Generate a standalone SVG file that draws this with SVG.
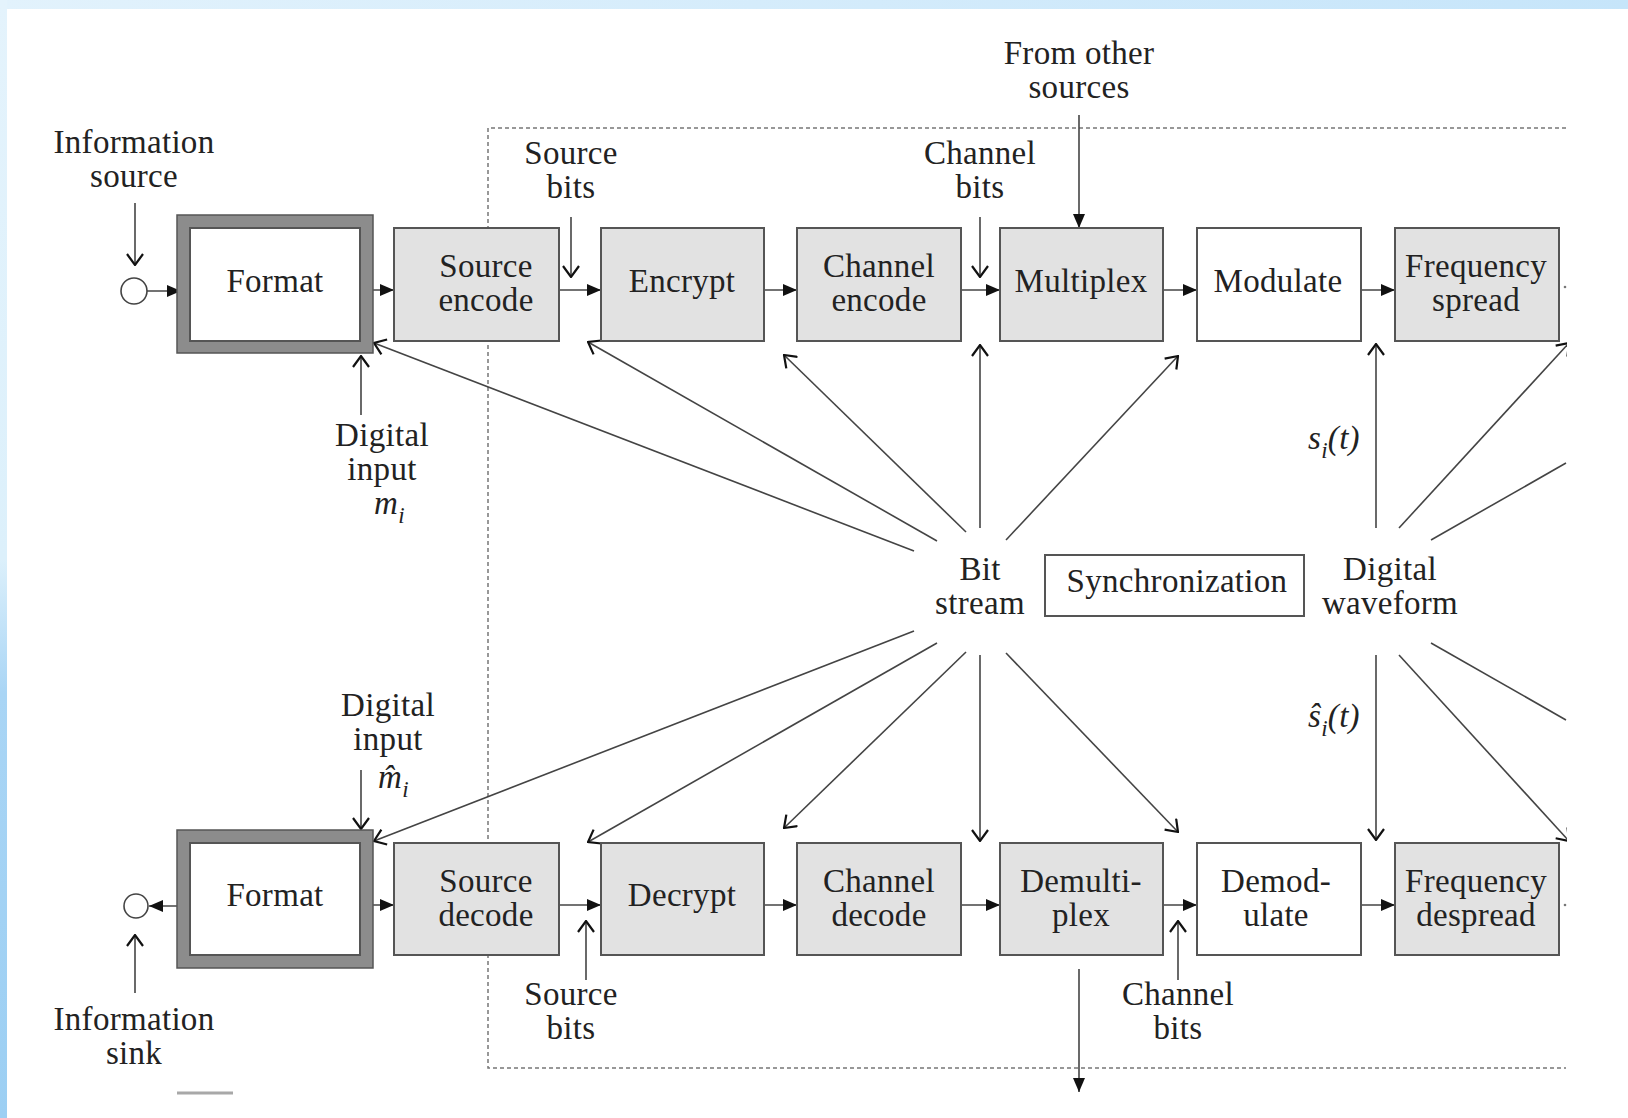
<svg xmlns="http://www.w3.org/2000/svg" width="1628" height="1118" viewBox="0 0 1628 1118">
<defs>
<linearGradient id="topband" x1="0" y1="0" x2="1" y2="0">
<stop offset="0" stop-color="#e2f2fc"/><stop offset="1" stop-color="#c6e5fa"/>
</linearGradient>
<linearGradient id="leftband" x1="0" y1="0" x2="0" y2="1">
<stop offset="0" stop-color="#e4f3fc"/><stop offset="0.5" stop-color="#dcf0fb"/><stop offset="0.62" stop-color="#a9d5f5"/><stop offset="1" stop-color="#9ccff3"/>
</linearGradient>
<marker id="fh" viewBox="0 0 14 12" refX="14" refY="6" markerWidth="14" markerHeight="12" markerUnits="userSpaceOnUse" orient="auto">
<path d="M0,0 L14,6 L0,12 z" fill="#111"/>
</marker>
<marker id="oh" viewBox="0 0 13 18" refX="12" refY="9" markerWidth="13" markerHeight="18" markerUnits="userSpaceOnUse" orient="auto">
<path d="M1,1 L12,9 L1,17" fill="none" stroke="#111" stroke-width="2.2"/>
</marker>
<clipPath id="clipR"><rect x="0" y="0" width="1567" height="1118"/></clipPath>
</defs>
<style>
text{font-family:"Liberation Serif","Times New Roman",serif;font-size:33px;fill:#222;text-anchor:middle;letter-spacing:0.3px}
.it{font-style:italic}
.sub{font-size:23px;font-style:italic}
.gbox{fill:#e2e2e2;stroke:#555;stroke-width:2}
.wbox{fill:#fff;stroke:#555;stroke-width:2}
.fmt{fill:#8c8c8c;stroke:#555;stroke-width:1.5}
.ln{fill:none;stroke:#444;stroke-width:1.6}
.f{marker-end:url(#fh)}
.o{marker-end:url(#oh)}
</style>
<rect x="0" y="0" width="1628" height="1118" fill="#ffffff"/>
<rect x="0" y="0" width="1628" height="9" fill="url(#topband)"/>
<rect x="0" y="0" width="7" height="1118" fill="url(#leftband)"/>

<g id="dashed-frame">
<path d="M1566,128 H488 V1068 H1566" fill="none" stroke="#777" stroke-width="1.5" stroke-dasharray="4 3"/>
</g>

<g id="connectors">
<path class="ln f" d="M147,291 H181"/>
<path class="ln f" d="M360,290 H394"/>
<path class="ln f" d="M559,290 H601"/>
<path class="ln f" d="M764,290 H797"/>
<path class="ln f" d="M961,290 H1000"/>
<path class="ln f" d="M1163,290 H1197"/>
<path class="ln f" d="M1361,290 H1395"/>
<path class="ln f" d="M190,906 H149"/>
<path class="ln f" d="M360,905 H394"/>
<path class="ln f" d="M559,905 H601"/>
<path class="ln f" d="M764,905 H797"/>
<path class="ln f" d="M961,905 H1000"/>
<path class="ln f" d="M1163,905 H1197"/>
<path class="ln f" d="M1361,905 H1395"/>
<path class="ln o" d="M135,203 V265"/>
<path class="ln o" d="M571,217 V277"/>
<path class="ln o" d="M980,217 V277"/>
<path class="ln f" d="M1079,115 V228"/>
<path class="ln o" d="M361,415 V356"/>
<path class="ln o" d="M361,770 V829"/>
<path class="ln o" d="M135,993 V935"/>
<path class="ln o" d="M586,980 V921"/>
<path class="ln o" d="M1178,980 V921"/>
<path class="ln f" d="M1079,969 V1092"/>
<path class="ln o" d="M914,551 L374,343"/>
<path class="ln o" d="M937,541 L588,342"/>
<path class="ln o" d="M966,532 L784,355"/>
<path class="ln o" d="M980,528 V345"/>
<path class="ln o" d="M1006,540 L1178,356"/>
<path class="ln o" d="M1376,528 V344"/>
<path class="ln o" d="M1399,528 L1569,343" clip-path="url(#clipR)"/>
<path class="ln" d="M1431,540 L1566,463"/>
<path class="ln o" d="M914,631 L374,841"/>
<path class="ln o" d="M937,643 L588,842"/>
<path class="ln o" d="M966,652 L784,828"/>
<path class="ln o" d="M980,655 V841"/>
<path class="ln o" d="M1006,653 L1178,832"/>
<path class="ln o" d="M1376,655 V840"/>
<path class="ln o" d="M1399,655 L1569,841" clip-path="url(#clipR)"/>
<path class="ln" d="M1431,643 L1566,720"/>
<circle cx="1565" cy="287" r="1.3" fill="#777"/>
<circle cx="1565" cy="905" r="1.3" fill="#777"/>
</g>

<g id="info-source">
<circle cx="134" cy="291" r="13" fill="#fff" stroke="#444" stroke-width="1.6"/>
<text x="134" y="153">Information</text>
<text x="134" y="187">source</text>
</g>
<g id="format-tx">
<rect class="fmt" x="177" y="215" width="196" height="138"/>
<rect class="wbox" x="190" y="228" width="170" height="113"/>
<text x="275" y="292">Format</text>
</g>
<g id="source-encode">
<rect class="gbox" x="394" y="228" width="165" height="113"/>
<text x="486" y="277">Source</text>
<text x="486" y="311">encode</text>
</g>
<g id="encrypt">
<rect class="gbox" x="601" y="228" width="163" height="113"/>
<text x="682" y="292">Encrypt</text>
</g>
<g id="channel-encode">
<rect class="gbox" x="797" y="228" width="164" height="113"/>
<text x="879" y="277">Channel</text>
<text x="879" y="311">encode</text>
</g>
<g id="multiplex">
<rect class="gbox" x="1000" y="228" width="163" height="113"/>
<text x="1081" y="292">Multiplex</text>
</g>
<g id="modulate">
<rect class="wbox" x="1197" y="228" width="164" height="113"/>
<text x="1278" y="292">Modulate</text>
</g>
<g id="frequency-spread">
<rect class="gbox" x="1395" y="228" width="164" height="113"/>
<text x="1476" y="277">Frequency</text>
<text x="1476" y="311">spread</text>
</g>

<g id="label-source-bits-top">
<text x="571" y="164">Source</text>
<text x="571" y="198">bits</text>
</g>
<g id="label-channel-bits-top">
<text x="980" y="164">Channel</text>
<text x="980" y="198">bits</text>
</g>
<g id="label-from-other">
<text x="1079" y="64">From other</text>
<text x="1079" y="98">sources</text>
</g>
<g id="label-digital-input-top">
<text x="382" y="446">Digital</text>
<text x="382" y="480">input</text>
<text x="374" y="514" style="text-anchor:start"><tspan class="it">m</tspan><tspan class="sub" dy="9">i</tspan></text>
</g>
<g id="label-si">
<text x="1308" y="449" style="text-anchor:start" class="it">s<tspan class="sub" dy="9">i</tspan><tspan dy="-9">(t)</tspan></text>
</g>

<g id="bit-stream">
<text x="980" y="580">Bit</text>
<text x="980" y="614">stream</text>
</g>
<g id="synchronization">
<rect class="wbox" x="1045" y="555" width="259" height="61"/>
<text x="1177" y="592">Synchronization</text>
</g>
<g id="digital-waveform">
<text x="1390" y="580">Digital</text>
<text x="1390" y="614">waveform</text>
</g>

<g id="label-shat">
<text x="1308" y="727" style="text-anchor:start" class="it">ŝ<tspan class="sub" dy="9">i</tspan><tspan dy="-9">(t)</tspan></text>
</g>
<g id="label-digital-input-bottom">
<text x="388" y="716">Digital</text>
<text x="388" y="750">input</text>
<text x="378" y="788" style="text-anchor:start"><tspan class="it">m&#x302;</tspan><tspan class="sub" dy="9">i</tspan></text>
</g>

<g id="info-sink">
<circle cx="136" cy="906" r="12" fill="#fff" stroke="#444" stroke-width="1.6"/>
<text x="134" y="1030">Information</text>
<text x="134" y="1064">sink</text>
</g>
<g id="format-rx">
<rect class="fmt" x="177" y="830" width="196" height="138"/>
<rect class="wbox" x="190" y="843" width="170" height="112"/>
<text x="275" y="906">Format</text>
</g>
<g id="source-decode">
<rect class="gbox" x="394" y="843" width="165" height="112"/>
<text x="486" y="892">Source</text>
<text x="486" y="926">decode</text>
</g>
<g id="decrypt">
<rect class="gbox" x="601" y="843" width="163" height="112"/>
<text x="682" y="906">Decrypt</text>
</g>
<g id="channel-decode">
<rect class="gbox" x="797" y="843" width="164" height="112"/>
<text x="879" y="892">Channel</text>
<text x="879" y="926">decode</text>
</g>
<g id="demultiplex">
<rect class="gbox" x="1000" y="843" width="163" height="112"/>
<text x="1081" y="892">Demulti-</text>
<text x="1081" y="926">plex</text>
</g>
<g id="demodulate">
<rect class="wbox" x="1197" y="843" width="164" height="112"/>
<text x="1276" y="892">Demod-</text>
<text x="1276" y="926">ulate</text>
</g>
<g id="frequency-despread">
<rect class="gbox" x="1395" y="843" width="164" height="112"/>
<text x="1476" y="892">Frequency</text>
<text x="1476" y="926">despread</text>
</g>

<g id="label-source-bits-bottom">
<text x="571" y="1005">Source</text>
<text x="571" y="1039">bits</text>
</g>
<g id="label-channel-bits-bottom">
<text x="1178" y="1005">Channel</text>
<text x="1178" y="1039">bits</text>
</g>
<line x1="177" y1="1093" x2="233" y2="1093" stroke="#a8a8a8" stroke-width="3"/>
</svg>
